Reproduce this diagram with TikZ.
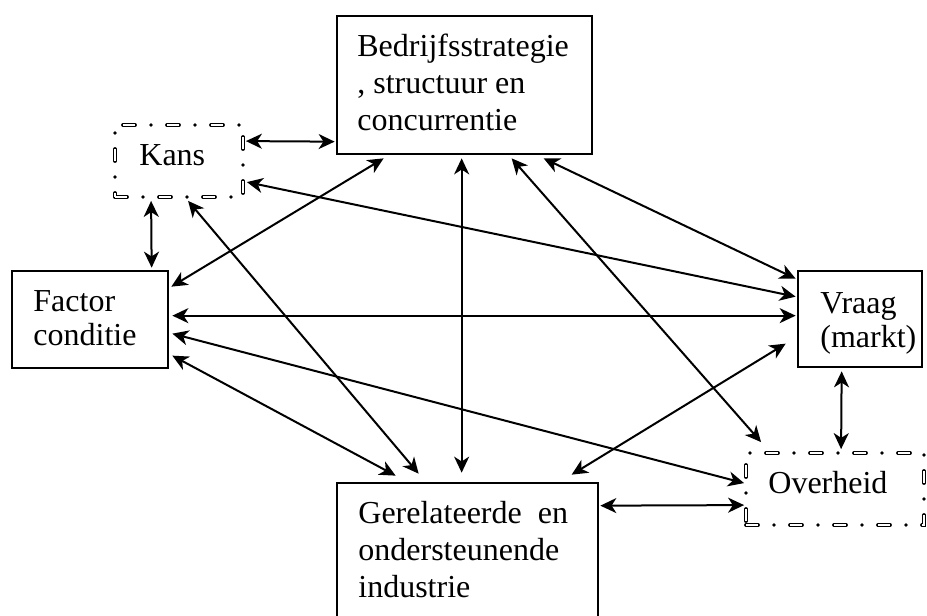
\documentclass[tikz,border=0pt]{standalone}
\usepackage{fontspec}
\setmainfont{Liberation Serif}
\usetikzlibrary{arrows.meta,fit,calc}
\begin{document}
\begin{tikzpicture}[x=0.5pt,y=-0.5pt,
  box/.style={draw, line width=1.35pt, inner sep=0pt},
  chance/.style={draw, line width=1.9pt, inner sep=0pt, line cap=round,
    dash pattern=on 6pt off 8pt on 0pt off 8pt,
    postaction={draw=white, line width=0.8pt, line cap=butt, dash pattern=on 6pt off 16pt}},
  txt/.style={inner sep=0pt, align=left, anchor=base west, font=\fontsize{16}{18.3}\selectfont},
  link/.style={line width=1pt, {Stealth[length=8pt,width=7.5pt,inset=2.4pt]}-{Stealth[length=8pt,width=7.5pt,inset=2.4pt]}}
]
\useasboundingbox (0,0) rectangle (927,616);
\clip (0,0) rectangle (927,616);
% boxes
\node[box, fit={(337,16)(592,154)}] (B) {};
\node[chance, fit={(115,125)(243,197)}] (K) {};
\node[box, fit={(12,271)(168,368)}] (F) {};
\node[box, fit={(798,271)(922,367)}] (V) {};
\node[chance, fit={(746,453)(924,525)}] (O) {};
\node[box, fit={(337,483)(598,640)}] (G) {};
% texts (base anchor = baseline of the last line)
\node[txt] (tB) at (357,130) {Bedrijfsstrategie\\, structuur en\\concurrentie};
\node[txt] (tK) at (139,165) {Kans};
\node[txt, font=\fontsize{16}{17}\selectfont] (tF) at (33,345) {Factor\\conditie};
\node[txt, font=\fontsize{16}{17}\selectfont] (tV) at (820,347) {Vraag\\(markt)};
\node[txt] (tO) at (768,493) {Overheid};
\node[txt, font=\fontsize{16}{18.5}\selectfont] (tG) at (358,597) {Gerelateerde\hspace{8pt}en\\ondersteunende\\industrie};
% connectors
\draw[link] ($(K.north east)+(1,18)$) -- ($(B.north west)+(-1,127)$);
\draw[link] ($(K.south west)+(38,2)$) -- ($(F.north west)+(141,-2)$);
\draw[link] ($(K.north east)+(2,59)$) -- ($(V.north west)+(-1,27)$);
\draw[link] ($(B.south west)+(48,3)$) -- ($(F.north east)+(2,17)$);
\draw[link] ($(K.south west)+(75,2)$) -- ($(G.north west)+(83,-8)$);
\draw[link] ($(B.south west)+(126,3)$) -- ($(G.north west)+(126,-9)$);
\draw[link] ($(B.south west)+(176,3)$) -- ($(O.north west)+(17,-9)$);
\draw[link] ($(B.south west)+(208,3)$) -- ($(V.north west)+(-1,9)$);
\draw[link] ($(F.north east)+(3,46)$) -- ($(V.north west)+(-1,46)$);
\draw[link] ($(F.north east)+(3,64)$) -- ($(O.north west)+(0,32)$);
\draw[link] ($(F.north east)+(3,86)$) -- ($(G.north west)+(60,-6)$);
\draw[link] ($(V.north west)+(-11,74)$) -- ($(G.north west)+(236,-7)$);
\draw[link] ($(V.south west)+(45,3)$) -- ($(O.north west)+(97,-2)$);
\draw[link] ($(G.north east)+(1,24)$) -- ($(O.north west)+(0,54)$);
\end{tikzpicture}
\end{document}
